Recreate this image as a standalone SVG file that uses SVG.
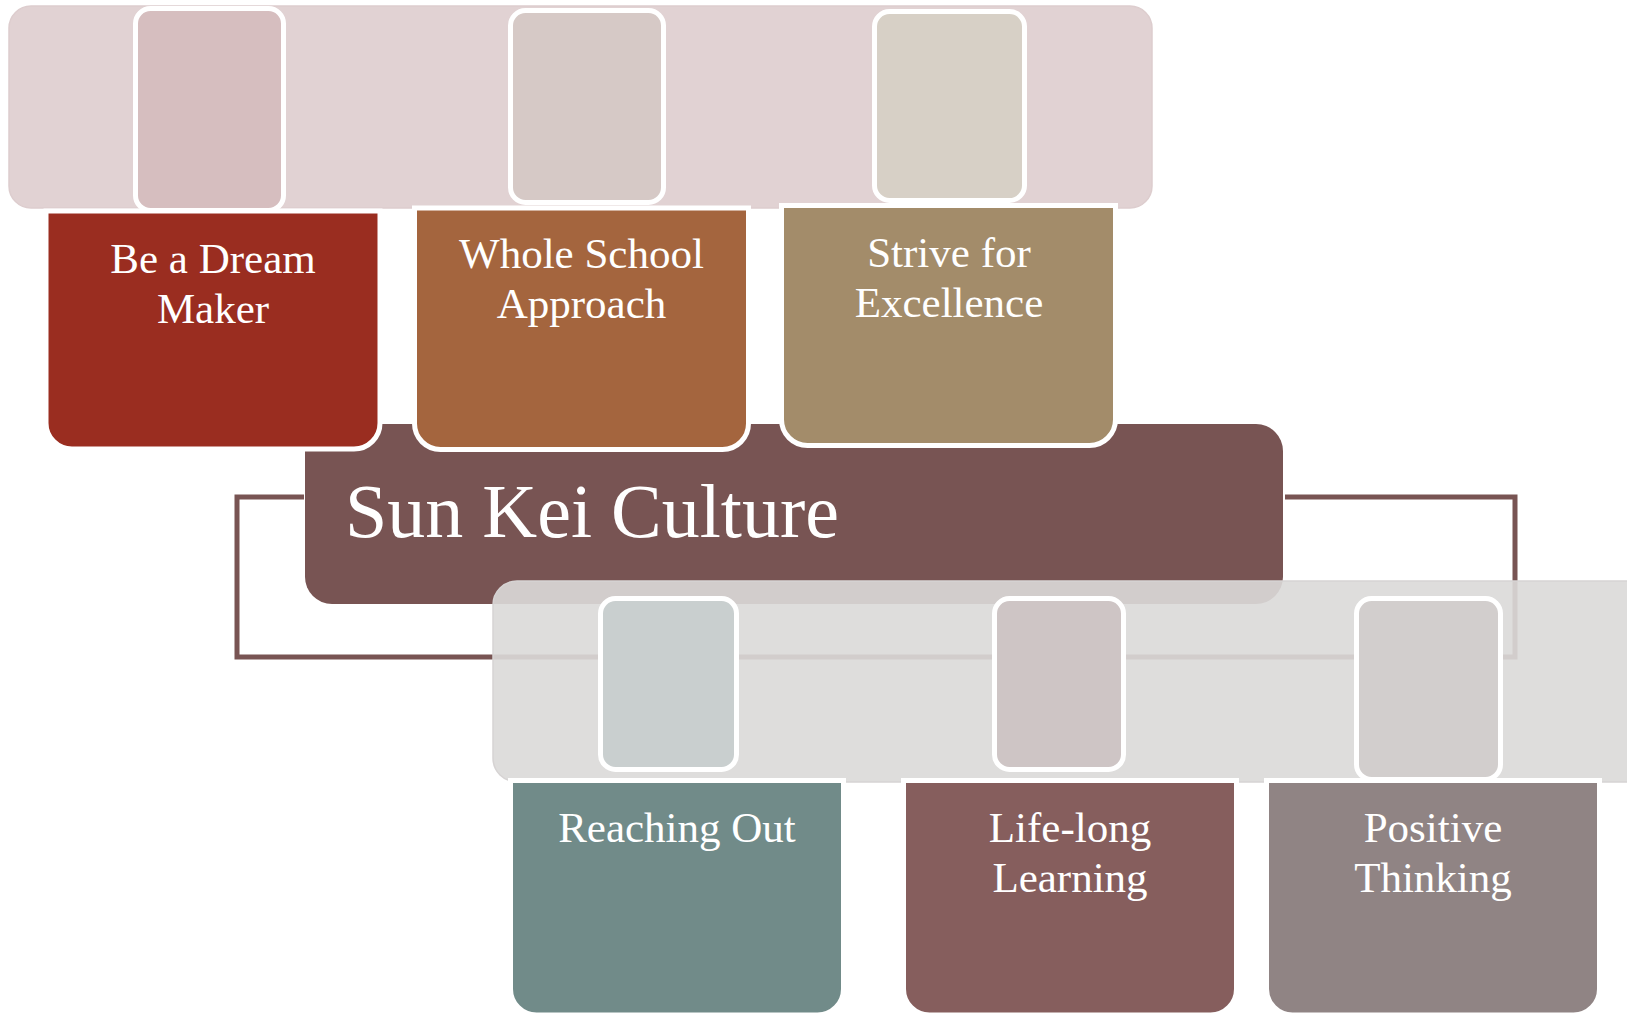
<svg xmlns="http://www.w3.org/2000/svg" width="1627" height="1015" viewBox="0 0 1627 1015">
<style>
.lbl{font-family:"Liberation Serif","DejaVu Serif",serif;fill:#ffffff;font-size:43px;text-anchor:middle}
.tile{stroke:#ffffff;stroke-width:5}
.card{stroke:#ffffff;stroke-width:5}
.conn{fill:none;stroke:#785453;stroke-width:5}
</style>
<rect width="1627" height="1015" fill="#ffffff"/>
<g id="top-band">
<rect x="9" y="6" width="1143" height="202" rx="22" fill="#E1D2D3" stroke="#DDCDCE" stroke-width="1.5"/>
</g>
<g id="top-tiles">
<rect class="tile" x="135.5" y="8.5" width="148" height="202" rx="15" fill="#D6BEBF"/>
<rect class="tile" x="510.5" y="10.5" width="153" height="192" rx="15" fill="#D6C9C6"/>
<rect class="tile" x="874.5" y="11.5" width="150" height="189" rx="15" fill="#D7D0C6"/>
</g>
<g id="connectors">
<path class="conn" d="M304 497 H237 V657 H1515 V497 H1285"/>
</g>
<g id="center">
<rect x="305" y="424" width="978" height="180" rx="27" fill="#785453"/>
<text x="345" y="537" font-family="Liberation Serif, DejaVu Serif, serif" font-size="76" fill="#ffffff">Sun Kei Culture</text>
</g>
<g id="card-dream">
<path class="card" fill="#9A2D20" d="M46 211 H380 V423 A26 26 0 0 1 354 449 H72 A26 26 0 0 1 46 423 Z"/>
<text class="lbl" x="213" y="273">Be a Dream</text>
<text class="lbl" x="213" y="323">Maker</text>
</g>
<g id="card-whole">
<path class="card" fill="#A4653E" d="M414.5 208 H748.5 V423.5 A26 26 0 0 1 722.5 449.5 H440.5 A26 26 0 0 1 414.5 423.5 Z"/>
<text class="lbl" x="581.5" y="268">Whole School</text>
<text class="lbl" x="581.5" y="318">Approach</text>
</g>
<g id="card-strive">
<path class="card" fill="#A38C6A" d="M781.5 205.5 H1115.5 V419.5 A26 26 0 0 1 1089.5 445.5 H807.5 A26 26 0 0 1 781.5 419.5 Z"/>
<text class="lbl" x="949" y="267">Strive for</text>
<text class="lbl" x="949" y="317">Excellence</text>
</g>
<g id="bottom-band">
<rect x="493" y="581" width="1160" height="201" rx="24" fill="#DBDAD9" fill-opacity="0.91" stroke="#D6D3D3" stroke-width="1.5"/>
</g>
<g id="bottom-tiles">
<rect class="tile" x="600.5" y="598.5" width="136" height="171" rx="15" fill="#C9CFCF"/>
<rect class="tile" x="994.5" y="598.5" width="129" height="171" rx="15" fill="#CEC5C5"/>
<rect class="tile" x="1356.5" y="598.5" width="144" height="181" rx="15" fill="#D2CECD"/>
</g>
<g id="card-reaching">
<path class="card" fill="#718B89" d="M510.5 780.5 H843.5 V989 A26 26 0 0 1 817.5 1015 H536.5 A26 26 0 0 1 510.5 989 Z"/>
<text class="lbl" x="677" y="842">Reaching Out</text>
</g>
<g id="card-lifelong">
<path class="card" fill="#865E5D" d="M903.5 780.5 H1236.5 V989 A26 26 0 0 1 1210.5 1015 H929.5 A26 26 0 0 1 903.5 989 Z"/>
<text class="lbl" x="1070" y="842">Life-long</text>
<text class="lbl" x="1070" y="892">Learning</text>
</g>
<g id="card-positive">
<path class="card" fill="#908484" d="M1266.5 780.5 H1599.5 V989 A26 26 0 0 1 1573.5 1015 H1292.5 A26 26 0 0 1 1266.5 989 Z"/>
<text class="lbl" x="1433" y="842">Positive</text>
<text class="lbl" x="1433" y="892">Thinking</text>
</g>
</svg>
